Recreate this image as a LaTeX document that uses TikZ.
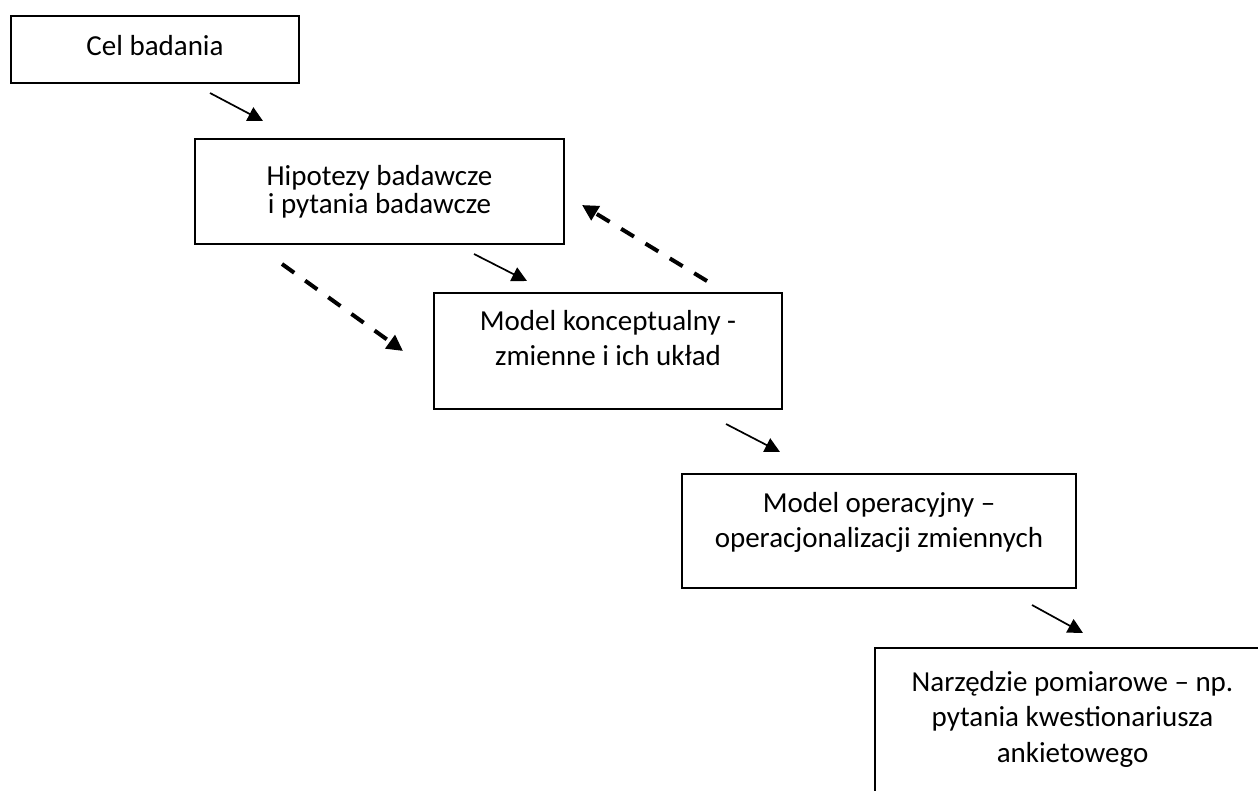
\documentclass[tikz,border=0pt]{standalone}
\usepackage{fontspec}
\setmainfont{Carlito}
\usetikzlibrary{arrows.meta}
\begin{document}
\begin{tikzpicture}[x=1pt,y=-1pt,
  box/.style={draw=black,line width=2pt,rectangle,inner sep=0pt,anchor=north west},
  txt/.style={anchor=base,inner sep=0pt,font=\fontsize{29pt}{35pt}\selectfont},
  flow/.style={line width=1.7pt,-{Triangle[length=15pt,width=15pt]}},
  back/.style={line width=4pt,dash pattern=on 15pt off 13.5pt,-{Triangle[length=16pt,width=16pt]}}]
\fill[white] (0,0) rectangle (1258,790);
\useasboundingbox (0,0) rectangle (1258,790);
\clip (0,0) rectangle (1258,790);

% boxes
\node[box,minimum width=288pt,minimum height=67pt]  (cel) at (10,15) {};
\node[box,minimum width=369pt,minimum height=105pt] (hip) at (194,138) {};
\node[box,minimum width=348pt,minimum height=116pt] (kon) at (433,292) {};
\node[box,minimum width=394pt,minimum height=114pt] (ope) at (681,473) {};
\node[box,minimum width=395pt,minimum height=200pt] (nar) at (874,647) {};

% box texts, set from the top of each box
\node[txt] (celA) at ([yshift=-40pt]cel.north) {Cel badania};
\node[txt] (hipA) at ([yshift=-47pt]hip.north) {Hipotezy badawcze};
\node[txt] (hipB) at ([yshift=-75pt]hip.north) {i pytania badawcze};
\node[txt] (konA) at ([yshift=-38pt]kon.north) {Model konceptualny -};
\node[txt] (konB) at ([yshift=-73pt]kon.north) {zmienne i ich układ};
\node[txt] (opeA) at ([yshift=-39pt]ope.north) {Model operacyjny –};
\node[txt] (opeB) at ([yshift=-74pt]ope.north) {operacjonalizacji zmiennych};
\node[txt] (narA) at ([yshift=-44pt]nar.north) {Narzędzie pomiarowe – np.};
\node[txt] (narB) at ([yshift=-79pt]nar.north) {pytania kwestionariusza};
\node[txt] (narC) at ([yshift=-115pt]nar.north) {ankietowego};

% arrow end points
\coordinate (f1s) at (210,93);   \coordinate (f1e) at (263,121);
\coordinate (f2s) at (474,254);  \coordinate (f2e) at (527,281);
\coordinate (f3s) at (726,424);  \coordinate (f3e) at (780,452);
\coordinate (f4s) at (1032,605); \coordinate (f4e) at (1083,633);
\coordinate (b1s) at (282,264);  \coordinate (b1e) at (403,351);
\coordinate (b2s) at (707,281);  \coordinate (b2e) at (582,205);

% solid flow arrows
\draw[flow] (f1s) -- (f1e);
\draw[flow] (f2s) -- (f2e);
\draw[flow] (f3s) -- (f3e);
\draw[flow] (f4s) -- (f4e);

% dashed feedback arrows
\draw[back] (b1s) -- (b1e);
\draw[back] (b2s) -- (b2e);
\end{tikzpicture}
\end{document}
